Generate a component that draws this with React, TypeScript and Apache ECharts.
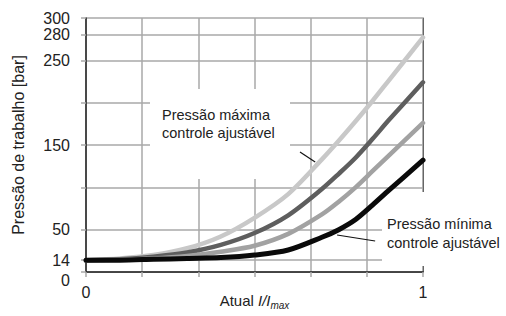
import React, { useEffect, useRef } from "react";
import * as echarts from "echarts";

const xValues = [0, 0.1, 0.2, 0.3, 0.4, 0.5, 0.6, 0.7, 0.75, 0.8, 0.85, 0.9, 1.0];
const curveMax = [14, 16, 20, 28, 42, 64, 92, 133, 155, 178, 202, 227, 277];
const curveDark = [14, 15, 18, 23, 32, 46, 67, 98, 116, 135, 157, 180, 224];
const curveMid = [14, 14.5, 16, 19, 24, 31, 45, 68, 83, 100, 119, 138, 176];
const curveMin = [14, 14, 15, 16, 17, 20, 26, 41, 50, 62, 79, 97, 132];

const yExtraGrid = [14, 280];
const yLabelValues = [14, 50, 150, 250, 280, 300];
const yZeroLabel = [0];
const xLabelValues = [0, 1];

const labelMax = ["Pressão máxima", "controle ajustável"];
const labelMin = ["Pressão mínima", "controle ajustável"];
const leaderMax = [[0.635, 141.7], [0.68, 130]];
const leaderMin = [[0.745, 43.7], [0.858, 36.6]];

const FONT = "Liberation Sans, Arial, sans-serif";
const GRID = "#a8a8a8";
const GRID_W = 1.5;

export default function App() {
  const ref = useRef<HTMLDivElement>(null);
  useEffect(() => {
    document.body.style.margin = "0";
    const chart = echarts.init(ref.current!, null, { renderer: "svg" });
    const mk = (vals: number[]) => xValues.map((x, i) => [x, vals[i]]);
    const line = (name: string, vals: number[], color: string, width: number, extra: any = {}) => ({
      name,
      type: "line",
      data: mk(vals),
      smooth: 0.3,
      showSymbol: false,
      symbol: "none",
      lineStyle: { color, width, cap: "round" },
      z: 3,
      ...extra,
    });
    const leader = (pts: number[][]) => ({
      silent: true,
      symbol: "none",
      label: { show: false },
      lineStyle: { color: "#111", width: 1.2, type: "solid" },
      data: [[{ coord: pts[0] }, { coord: pts[1] }]],
    });
    const hiddenAxis = {
      axisLabel: { show: false },
      splitLine: { show: false },
      axisTick: { show: false },
    };
    chart.setOption({
      animation: false,
      textStyle: { fontFamily: FONT },
      grid: {
        left: 86,
        right: 83,
        top: 18,
        bottom: 44,
        outerBoundsMode: "none",
        containLabel: false,
      },
      xAxis: [
        {
          type: "value",
          min: 0,
          max: 1,
          interval: 1 / 6,
          axisLine: { show: true, lineStyle: { color: "#222", width: 1.5 } },
          axisTick: { show: true, inside: false, length: 5, lineStyle: { color: GRID, width: GRID_W } },
          splitLine: { show: true, lineStyle: { color: GRID, width: GRID_W } },
          axisLabel: {
            fontSize: 16,
            color: "#222",
            margin: 12,
            fontFamily: FONT,
            formatter: (v: number) => {
              const hit = xLabelValues.find((t) => Math.abs(t - v) < 1e-6);
              return hit === undefined ? "" : String(hit);
            },
          },
          name: "{a|Atual }{i|I/I}{s|max}",
          nameLocation: "middle",
          nameGap: 18,
          nameMoveOverlap: false,
          nameTextStyle: {
            fontFamily: FONT,
            rich: {
              a: { fontSize: 15, color: "#222", fontFamily: FONT },
              i: { fontSize: 15, color: "#222", fontStyle: "italic", fontFamily: FONT },
              s: { fontSize: 10, color: "#222", fontStyle: "italic", fontFamily: FONT, padding: [10, 0, 0, 0] },
            },
          },
        },
        {
          type: "value",
          position: "top",
          min: 0,
          max: 1,
          axisLine: { show: true, lineStyle: { color: "#444", width: 1 } },
          ...hiddenAxis,
        },
      ],
      yAxis: [
        {
          type: "value",
          min: 0,
          max: 300,
          interval: 50,
          axisLine: { show: true, lineStyle: { color: "#222", width: 1.5 } },
          axisTick: { show: true, inside: false, length: 5, lineStyle: { color: GRID, width: GRID_W } },
          splitLine: { show: true, lineStyle: { color: GRID, width: GRID_W } },
          axisLabel: { show: false },
          name: "Pressão de trabalho [bar]",
          nameLocation: "middle",
          nameGap: 60,
          nameMoveOverlap: false,
          nameRotate: 90,
          nameTextStyle: { fontSize: 16, color: "#222", fontFamily: FONT },
        },
        {
          type: "value",
          position: "left",
          min: 0,
          max: 300,
          axisLine: { show: false },
          splitLine: { show: true, lineStyle: { color: GRID, width: GRID_W } },
          axisTick: {
            show: true,
            inside: false,
            length: 5,
            lineStyle: { color: GRID, width: GRID_W },
            customValues: yExtraGrid,
          },
          axisLabel: { fontSize: 16, color: "#222", margin: 16, fontFamily: FONT, customValues: yLabelValues },
        },
        {
          type: "value",
          position: "left",
          min: 0,
          max: 300,
          axisLine: { show: false },
          splitLine: { show: false },
          axisTick: { show: false },
          axisLabel: {
            fontSize: 16,
            color: "#222",
            margin: 16,
            fontFamily: FONT,
            verticalAlign: "top",
            lineHeight: 16,
            customValues: yZeroLabel,
          },
        },
        {
          type: "value",
          position: "right",
          min: 0,
          max: 300,
          axisLine: { show: true, lineStyle: { color: "#666", width: 1 } },
          ...hiddenAxis,
        },
      ],
      graphic: [
        { type: "rect", z: 1, shape: { x: 150, y: 89, width: 140, height: 90 }, style: { fill: "#fff" } },
        { type: "rect", z: 1, shape: { x: 382, y: 192, width: 124, height: 74 }, style: { fill: "#fff" } },
        {
          type: "text",
          z: 5,
          x: 162,
          y: 106,
          style: { text: labelMax.join("\n"), fontSize: 14.5, lineHeight: 18, fill: "#222", fontFamily: FONT },
        },
        {
          type: "text",
          z: 5,
          x: 387,
          y: 214,
          style: { text: labelMin.join("\n"), fontSize: 14.5, lineHeight: 19, fill: "#222", fontFamily: FONT },
        },
      ],
      series: [
        line("max", curveMax, "#c8c8c8", 4.5, { markLine: leader(leaderMax) }),
        line("dark", curveDark, "#5e5e5e", 4.5),
        line("mid", curveMid, "#a2a2a2", 4.5),
        line("min", curveMin, "#0a0a0a", 5, { markLine: leader(leaderMin) }),
      ],
    });
    return () => chart.dispose();
  }, []);
  return <div ref={ref} style={{ width: 506, height: 316 }} />;
}
